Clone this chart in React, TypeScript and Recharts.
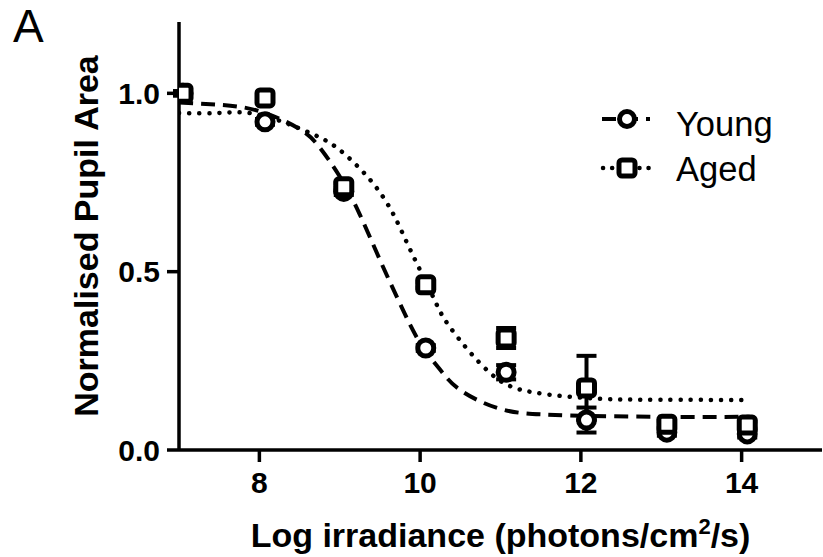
import React from "react";
import {
  ComposedChart,
  Line,
  Scatter,
  XAxis,
  YAxis,
  ErrorBar,
  Legend,
  Label,
} from "recharts";

// measured points (log irradiance vs normalised pupil area)
const doseX = [7.05, 8.07, 9.05, 10.07, 11.07, 12.07, 13.07, 14.07];
const youngMean = [1.0, 0.92, 0.725, 0.286, 0.218, 0.084, 0.05, 0.045];
const youngErr = [0.006, 0.008, 0.01, 0.008, 0.02, 0.035, 0.01, 0.01];
const agedMean = [1.0, 0.987, 0.738, 0.463, 0.314, 0.174, 0.072, 0.07];
const agedErr = [0.006, 0.008, 0.01, 0.008, 0.028, 0.09, 0.01, 0.01];

// fitted curves
const youngFitX = [7.0, 7.5, 8.0, 8.5, 8.75, 9.0, 9.25, 9.5, 9.75, 10.0, 10.25, 10.5, 11.0, 11.5, 12.0, 13.0, 14.1];
const youngFitY = [0.974, 0.968, 0.95, 0.9, 0.848, 0.767, 0.66, 0.533, 0.41, 0.3, 0.225, 0.168, 0.115, 0.1, 0.096, 0.093, 0.093];
const agedFitX = [7.0, 7.5, 8.0, 8.63, 9.0, 9.38, 9.66, 9.88, 10.16, 10.37, 10.87, 11.4, 12.2, 13.0, 14.1];
const agedFitY = [0.945, 0.945, 0.94, 0.889, 0.841, 0.757, 0.664, 0.56, 0.43, 0.345, 0.216, 0.162, 0.144, 0.141, 0.14];

const xTicks = [8, 10, 12, 14];
const yTicks = [0, 0.5, 1.0];

const youngPts = doseX.map((x, i) => ({ x, y: youngMean[i], err: youngErr[i] }));
const agedPts = doseX.map((x, i) => ({ x, y: agedMean[i], err: agedErr[i] }));
const youngFit = youngFitX.map((x, i) => ({ x, y: youngFitY[i] }));
const agedFit = agedFitX.map((x, i) => ({ x, y: agedFitY[i] }));

const FONT = "'Liberation Sans', Arial, sans-serif";
const axisStyle = { stroke: "#000", strokeWidth: 3.5 };
const tickStyle = { fontFamily: FONT, fontSize: 30, fontWeight: 700, fill: "#000" };

const CircleMark = (props: any) => {
  const { cx, cy } = props;
  if (cx == null || cy == null) return null;
  return <circle cx={cx} cy={cy} r={8} fill="#fff" stroke="#000" strokeWidth={5} />;
};

const SquareMark = (props: any) => {
  const { cx, cy } = props;
  if (cx == null || cy == null) return null;
  return (
    <rect x={cx - 8} y={cy - 8} width={16} height={16} rx={3} fill="#fff" stroke="#000" strokeWidth={5} />
  );
};

const LegendBox = () => (
  <svg width={210} height={100}>
    <line x1={12} y1={23} x2={60} y2={23} stroke="#000" strokeWidth={4} strokeDasharray="14 8" />
    <circle cx={37} cy={23} r={7.5} fill="#fff" stroke="#000" strokeWidth={5} />
    <text x={86} y={40} fontFamily={FONT} fontSize={34.5} fill="#000">
      Young
    </text>
    <line x1={13} y1={72} x2={61} y2={72} stroke="#000" strokeWidth={4.5} strokeLinecap="round" strokeDasharray="0.1 9" />
    <rect x={29} y={64} width={16} height={16} rx={3} fill="#fff" stroke="#000" strokeWidth={5} />
    <text x={86} y={85} fontFamily={FONT} fontSize={34.5} fill="#000">
      Aged
    </text>
  </svg>
);

const YTitle = (props: any) => {
  const vb = props.viewBox || {};
  const cy = vb.y + vb.height / 2;
  return (
    <text
      x={98}
      y={cy}
      transform={`rotate(-90, 98, ${cy})`}
      textAnchor="middle"
      fontFamily={FONT}
      fontSize={34}
      fontWeight={700}
      fill="#000"
    >
      Normalised Pupil Area
    </text>
  );
};

const XTitle = (props: any) => {
  const vb = props.viewBox || {};
  const cx = vb.x + vb.width / 2;
  return (
    <text x={cx} y={547} textAnchor="middle" fontFamily={FONT} fontSize={34} fontWeight={700} fill="#000">
      Log irradiance (photons/cm
      <tspan dy={-13} fontSize={22}>2</tspan>
      <tspan dy={13}>/s)</tspan>
    </text>
  );
};

export default function App() {
  return (
    <div style={{ position: "absolute", left: 0, top: 0, width: 823, height: 557, background: "#fff" }}>
      <div
        style={{
          position: "absolute",
          left: 13,
          top: 0,
          fontFamily: FONT,
          fontSize: 46,
          lineHeight: "52px",
          color: "#000",
        }}
      >
        A
      </div>
      <ComposedChart width={823} height={557} margin={{ top: 22, right: 1, left: 0, bottom: 47 }}>
        <XAxis
          dataKey="x"
          type="number"
          domain={[7, 15]}
          ticks={xTicks}
          allowDataOverflow
          height={60}
          axisLine={axisStyle}
          tickLine={axisStyle}
          tickSize={12}
          tickMargin={10}
          tick={tickStyle}
        >
          <Label content={<XTitle />} />
        </XAxis>
        <YAxis
          type="number"
          domain={[0, 1.2]}
          ticks={yTicks}
          allowDataOverflow
          width={179}
          axisLine={axisStyle}
          tickLine={axisStyle}
          tickSize={12}
          tickMargin={7}
          tick={tickStyle}
          tickFormatter={(v: number) => v.toFixed(1)}
        >
          <Label content={<YTitle />} />
        </YAxis>
        <Legend
          layout="horizontal"
          verticalAlign="middle"
          align="center"
          wrapperStyle={{ left: 590, top: 96, width: 210, height: 100 }}
          content={<LegendBox />}
        />
        <Line
          data={youngFit}
          dataKey="y"
          name="Young fit"
          type="natural"
          stroke="#000"
          strokeWidth={4}
          strokeDasharray="14 8"
          dot={false}
          activeDot={false}
          legendType="none"
          isAnimationActive={false}
        />
        <Line
          data={agedFit}
          dataKey="y"
          name="Aged fit"
          type="natural"
          stroke="#000"
          strokeWidth={4.5}
          strokeLinecap="round"
          strokeDasharray="0.1 10"
          dot={false}
          activeDot={false}
          legendType="none"
          isAnimationActive={false}
        />
        <Scatter data={youngPts} dataKey="y" name="Young" shape={<CircleMark />} isAnimationActive={false}>
          <ErrorBar dataKey="err" direction="y" width={10} strokeWidth={4} stroke="#000" />
        </Scatter>
        <Scatter data={agedPts} dataKey="y" name="Aged" shape={<SquareMark />} isAnimationActive={false}>
          <ErrorBar dataKey="err" direction="y" width={10} strokeWidth={4} stroke="#000" />
        </Scatter>
      </ComposedChart>
    </div>
  );
}
